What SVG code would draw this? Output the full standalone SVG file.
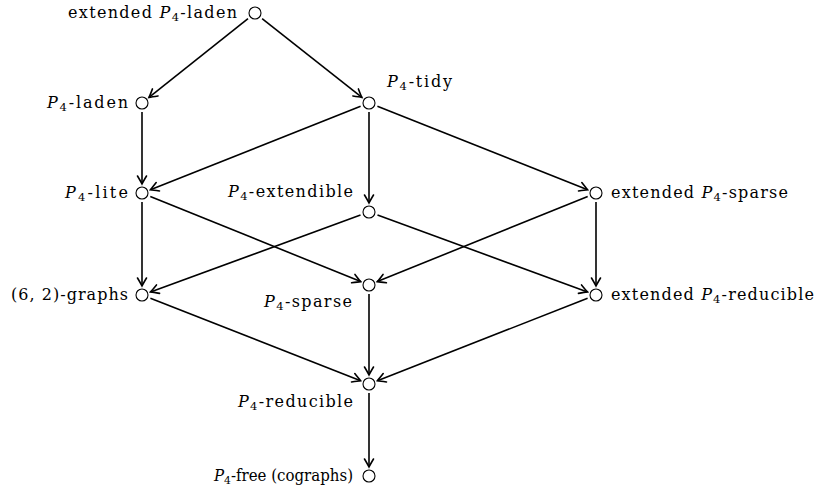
<svg xmlns="http://www.w3.org/2000/svg" width="817" height="489" viewBox="0 0 817 489">
<defs>
<marker id="arr" markerUnits="userSpaceOnUse" viewBox="-10 -6 12 12" refX="0" refY="0" markerWidth="12" markerHeight="12" orient="auto">
<path d="M-8,-4.5 Q-2.5,-1.2 0,0 Q-2.5,1.2 -8,4.5" fill="none" stroke="#000" stroke-width="1.6" stroke-linecap="round"/>
</marker>
</defs>
<style>
.n{fill:#fff;stroke:#000;stroke-width:1.1}
.e{stroke:#000;stroke-width:1.6;fill:none;marker-end:url(#arr)}
text{font-family:"DejaVu Serif","Liberation Serif",serif;font-size:16px;fill:#000}
.i{font-style:italic}
.s{font-size:11.5px}
</style>
<rect width="817" height="489" fill="#fff"/>
<g id="connectors">
<line class="e" x1="248" y1="18.6" x2="149" y2="97.4"/>
<line class="e" x1="262.1" y1="18.6" x2="361.9" y2="97.4"/>
<line class="e" x1="142" y1="112" x2="142" y2="184"/>
<line class="e" x1="360.6" y1="106.3" x2="150.4" y2="189.7"/>
<line class="e" x1="369" y1="112" x2="369" y2="203"/>
<line class="e" x1="377.4" y1="106.3" x2="587.6" y2="189.7"/>
<line class="e" x1="142" y1="202" x2="142" y2="286"/>
<line class="e" x1="150.3" y1="196.4" x2="360.7" y2="281.6"/>
<line class="e" x1="360.5" y1="215.1" x2="150.5" y2="291.9"/>
<line class="e" x1="377.5" y1="215.1" x2="587.5" y2="291.9"/>
<line class="e" x1="587.7" y1="196.4" x2="377.3" y2="281.6"/>
<line class="e" x1="596" y1="202" x2="596" y2="286"/>
<line class="e" x1="150.4" y1="298.3" x2="360.6" y2="380.7"/>
<line class="e" x1="369" y1="294" x2="369" y2="375"/>
<line class="e" x1="587.6" y1="298.3" x2="377.4" y2="380.7"/>
<line class="e" x1="369" y1="393" x2="369" y2="467"/>
</g>
<g id="ext-p4-laden"><circle class="n" cx="255" cy="13" r="6"/><text x="68" y="18" textLength="169" lengthAdjust="spacing">extended <tspan class="i">P</tspan><tspan class="s" dy="3">4</tspan><tspan dy="-3">-laden</tspan></text></g>
<g id="p4-laden"><circle class="n" cx="142" cy="103" r="6"/><text x="47" y="108" textLength="81" lengthAdjust="spacing"><tspan class="i">P</tspan><tspan class="s" dy="3">4</tspan><tspan dy="-3">-laden</tspan></text></g>
<g id="p4-tidy"><circle class="n" cx="369" cy="103" r="6"/><text x="387" y="87" textLength="65" lengthAdjust="spacing"><tspan class="i">P</tspan><tspan class="s" dy="3">4</tspan><tspan dy="-3">-tidy</tspan></text></g>
<g id="p4-lite"><circle class="n" cx="142" cy="193" r="6"/><text x="65" y="198" textLength="63" lengthAdjust="spacing"><tspan class="i">P</tspan><tspan class="s" dy="3">4</tspan><tspan dy="-3">-lite</tspan></text></g>
<g id="p4-extendible"><circle class="n" cx="369" cy="212" r="6"/><text x="228" y="197" textLength="125" lengthAdjust="spacing"><tspan class="i">P</tspan><tspan class="s" dy="3">4</tspan><tspan dy="-3">-extendible</tspan></text></g>
<g id="ext-p4-sparse"><circle class="n" cx="596" cy="193" r="6"/><text x="611" y="198" textLength="177" lengthAdjust="spacing">extended <tspan class="i">P</tspan><tspan class="s" dy="3">4</tspan><tspan dy="-3">-sparse</tspan></text></g>
<g id="g62"><circle class="n" cx="142" cy="295" r="6"/><text x="11" y="300" textLength="117" lengthAdjust="spacing">(6, 2)-graphs</text></g>
<g id="p4-sparse"><circle class="n" cx="369" cy="285" r="6"/><text x="264" y="307" textLength="88" lengthAdjust="spacing"><tspan class="i">P</tspan><tspan class="s" dy="3">4</tspan><tspan dy="-3">-sparse</tspan></text></g>
<g id="ext-p4-reducible"><circle class="n" cx="596" cy="295" r="6"/><text x="611" y="300" textLength="203" lengthAdjust="spacing">extended <tspan class="i">P</tspan><tspan class="s" dy="3">4</tspan><tspan dy="-3">-reducible</tspan></text></g>
<g id="p4-reducible"><circle class="n" cx="369" cy="384" r="6"/><text x="238" y="407" textLength="115" lengthAdjust="spacing"><tspan class="i">P</tspan><tspan class="s" dy="3">4</tspan><tspan dy="-3">-reducible</tspan></text></g>
<g id="p4-free"><circle class="n" cx="369" cy="476" r="6"/><text x="214" y="481" textLength="139" lengthAdjust="spacingAndGlyphs"><tspan class="i">P</tspan><tspan class="s" dy="3">4</tspan><tspan dy="-3">-free (cographs)</tspan></text></g>
</svg>
